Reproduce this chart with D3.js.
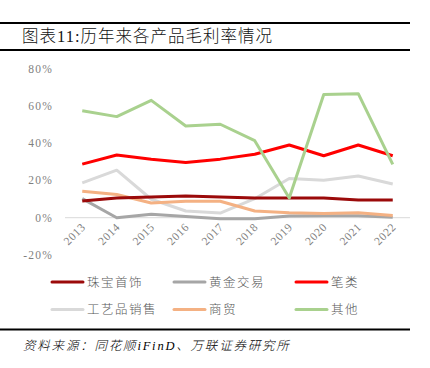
<!DOCTYPE html>
<html lang="zh">
<head>
<meta charset="UTF-8" />
<title>图表11</title>
<script src="https://cdnjs.cloudflare.com/ajax/libs/d3/7.8.5/d3.min.js"></script>
<style>
  * { margin: 0; padding: 0; box-sizing: border-box; }
  body { background: #fff; width: 430px; height: 368px; overflow: hidden; }
  svg { display: block; }
</style>
</head>
<body>
<svg id="chart" width="430" height="368"></svg>
<script>
  // -------- Datos --------
  const years = ["2013","2014","2015","2016","2017","2018","2019","2020","2021","2022"];
  const yTicks = [-20, 0, 20, 40, 60, 80];
  const jewelry = [9.0, 10.6, 11.1, 11.7, 11.1, 10.6, 10.6, 10.5, 9.5, 9.5];
  const goldTrade = [10.2, 0.0, 1.8, 0.7, -0.5, -0.5, 0.9, 1.0, 1.0, 0.2];
  const pens = [28.7, 33.6, 31.3, 29.6, 31.4, 34.0, 39.0, 33.2, 39.0, 33.2];
  const crafts = [18.7, 25.5, 9.9, 3.6, 2.5, 10.2, 21.0, 20.1, 22.4, 18.1];
  const commerce = [14.2, 12.4, 7.9, 8.8, 8.8, 3.6, 2.7, 2.3, 2.7, 1.2];
  const others = [57.3, 54.2, 62.9, 49.2, 50.1, 41.3, 10.6, 66.1, 66.5, 28.6];

  const series = [
    { name: "珠宝首饰", values: jewelry, color: "#9B0A0A" },
    { name: "黄金交易", values: goldTrade, color: "#A6A6A6" },
    { name: "笔类", values: pens, color: "#FF0000" },
    { name: "工艺品销售", values: crafts, color: "#D9D9D9" },
    { name: "商贸", values: commerce, color: "#F4B183" },
    { name: "其他", values: others, color: "#A9D18E" }
  ];
  // orden de dibujo (la verde queda encima)
  const drawOrder = [3, 1, 4, 0, 2, 5];

  const svg = d3.select("#chart");
  const serif = "'Liberation Serif', 'Noto Sans CJK SC', serif";
  const cjk = "'Liberation Serif', 'Noto Sans CJK SC', sans-serif";

  // -------- Encabezado --------
  svg.append("rect").attr("x", 0).attr("y", 22).attr("width", 410).attr("height", 2).attr("fill", "#000");
  svg.append("rect").attr("x", 0).attr("y", 49).attr("width", 410).attr("height", 2).attr("fill", "#000");
  svg.append("text")
    .attr("x", 22).attr("y", 42)
    .attr("font-family", cjk).attr("font-size", 16.5)
    .attr("font-weight", 300)
    .attr("letter-spacing", 1)
    .attr("fill", "#111")
    .text("图表11:历年来各产品毛利率情况");

  // -------- Escalas --------
  const x = d3.scaleBand().domain(years).range([65, 410]);
  const y = d3.scaleLinear().domain([-20, 80]).range([255, 68.5]);
  const cx = d => x(d) + x.bandwidth() / 2;

  // eje Y
  svg.append("g")
    .selectAll("text")
    .data(yTicks)
    .enter()
    .append("text")
    .attr("x", 53).attr("y", d => y(d) + 4)
    .attr("text-anchor", "end")
    .attr("font-family", serif).attr("font-size", 11.5)
    .attr("letter-spacing", 1.2)
    .attr("fill", "#7F7F7F")
    .text(d => d + "%");

  // linea de cero
  svg.append("line")
    .attr("x1", 65).attr("x2", 410)
    .attr("y1", y(0)).attr("y2", y(0))
    .attr("stroke", "#D9D9D9").attr("stroke-width", 1);

  // eje X rotado
  svg.append("g")
    .selectAll("text")
    .data(years)
    .enter()
    .append("text")
    .attr("transform", d => `translate(${cx(d) + 4},${y(0) + 10}) rotate(-45)`)
    .attr("text-anchor", "end")
    .attr("font-family", serif).attr("font-size", 11.5)
    .attr("letter-spacing", 0.6)
    .attr("fill", "#7F7F7F")
    .text(d => d);

  // -------- Lineas --------
  const line = d3.line()
    .x((d, i) => cx(years[i]))
    .y(d => y(d));

  drawOrder.forEach(k => {
    const s = series[k];
    svg.append("path")
      .datum(s.values)
      .attr("fill", "none")
      .attr("stroke", s.color)
      .attr("stroke-width", 3)
      .attr("stroke-linejoin", "round")
      .attr("d", line);
  });

  // -------- Leyenda --------
  const legX = [52, 174, 296];
  const legY = [282, 309.5];
  const leg = svg.append("g");
  series.forEach((s, i) => {
    const lx = legX[i % 3], ly = legY[Math.floor(i / 3)];
    leg.append("line")
      .attr("x1", lx).attr("x2", lx + 31)
      .attr("y1", ly).attr("y2", ly)
      .attr("stroke", s.color).attr("stroke-width", 3)
      .attr("stroke-linecap", "round");
    leg.append("text")
      .attr("x", lx + 35).attr("y", ly + 4.5)
      .attr("font-family", cjk).attr("font-size", 12.5)
      .attr("font-weight", 300)
      .attr("letter-spacing", 1.5)
      .attr("fill", "#595959")
      .text(s.name);
  });

  // -------- Pie --------
  svg.append("rect").attr("x", 0).attr("y", 328.5).attr("width", 410).attr("height", 2).attr("fill", "#000");
  svg.append("text")
    .attr("x", 23).attr("y", 350)
    .attr("font-family", cjk).attr("font-size", 12.5)
    .attr("font-style", "italic")
    .attr("font-weight", 300)
    .attr("letter-spacing", 1.8)
    .attr("fill", "#000")
    .text("资料来源：同花顺iFinD、万联证券研究所");
</script>
</body>
</html>
